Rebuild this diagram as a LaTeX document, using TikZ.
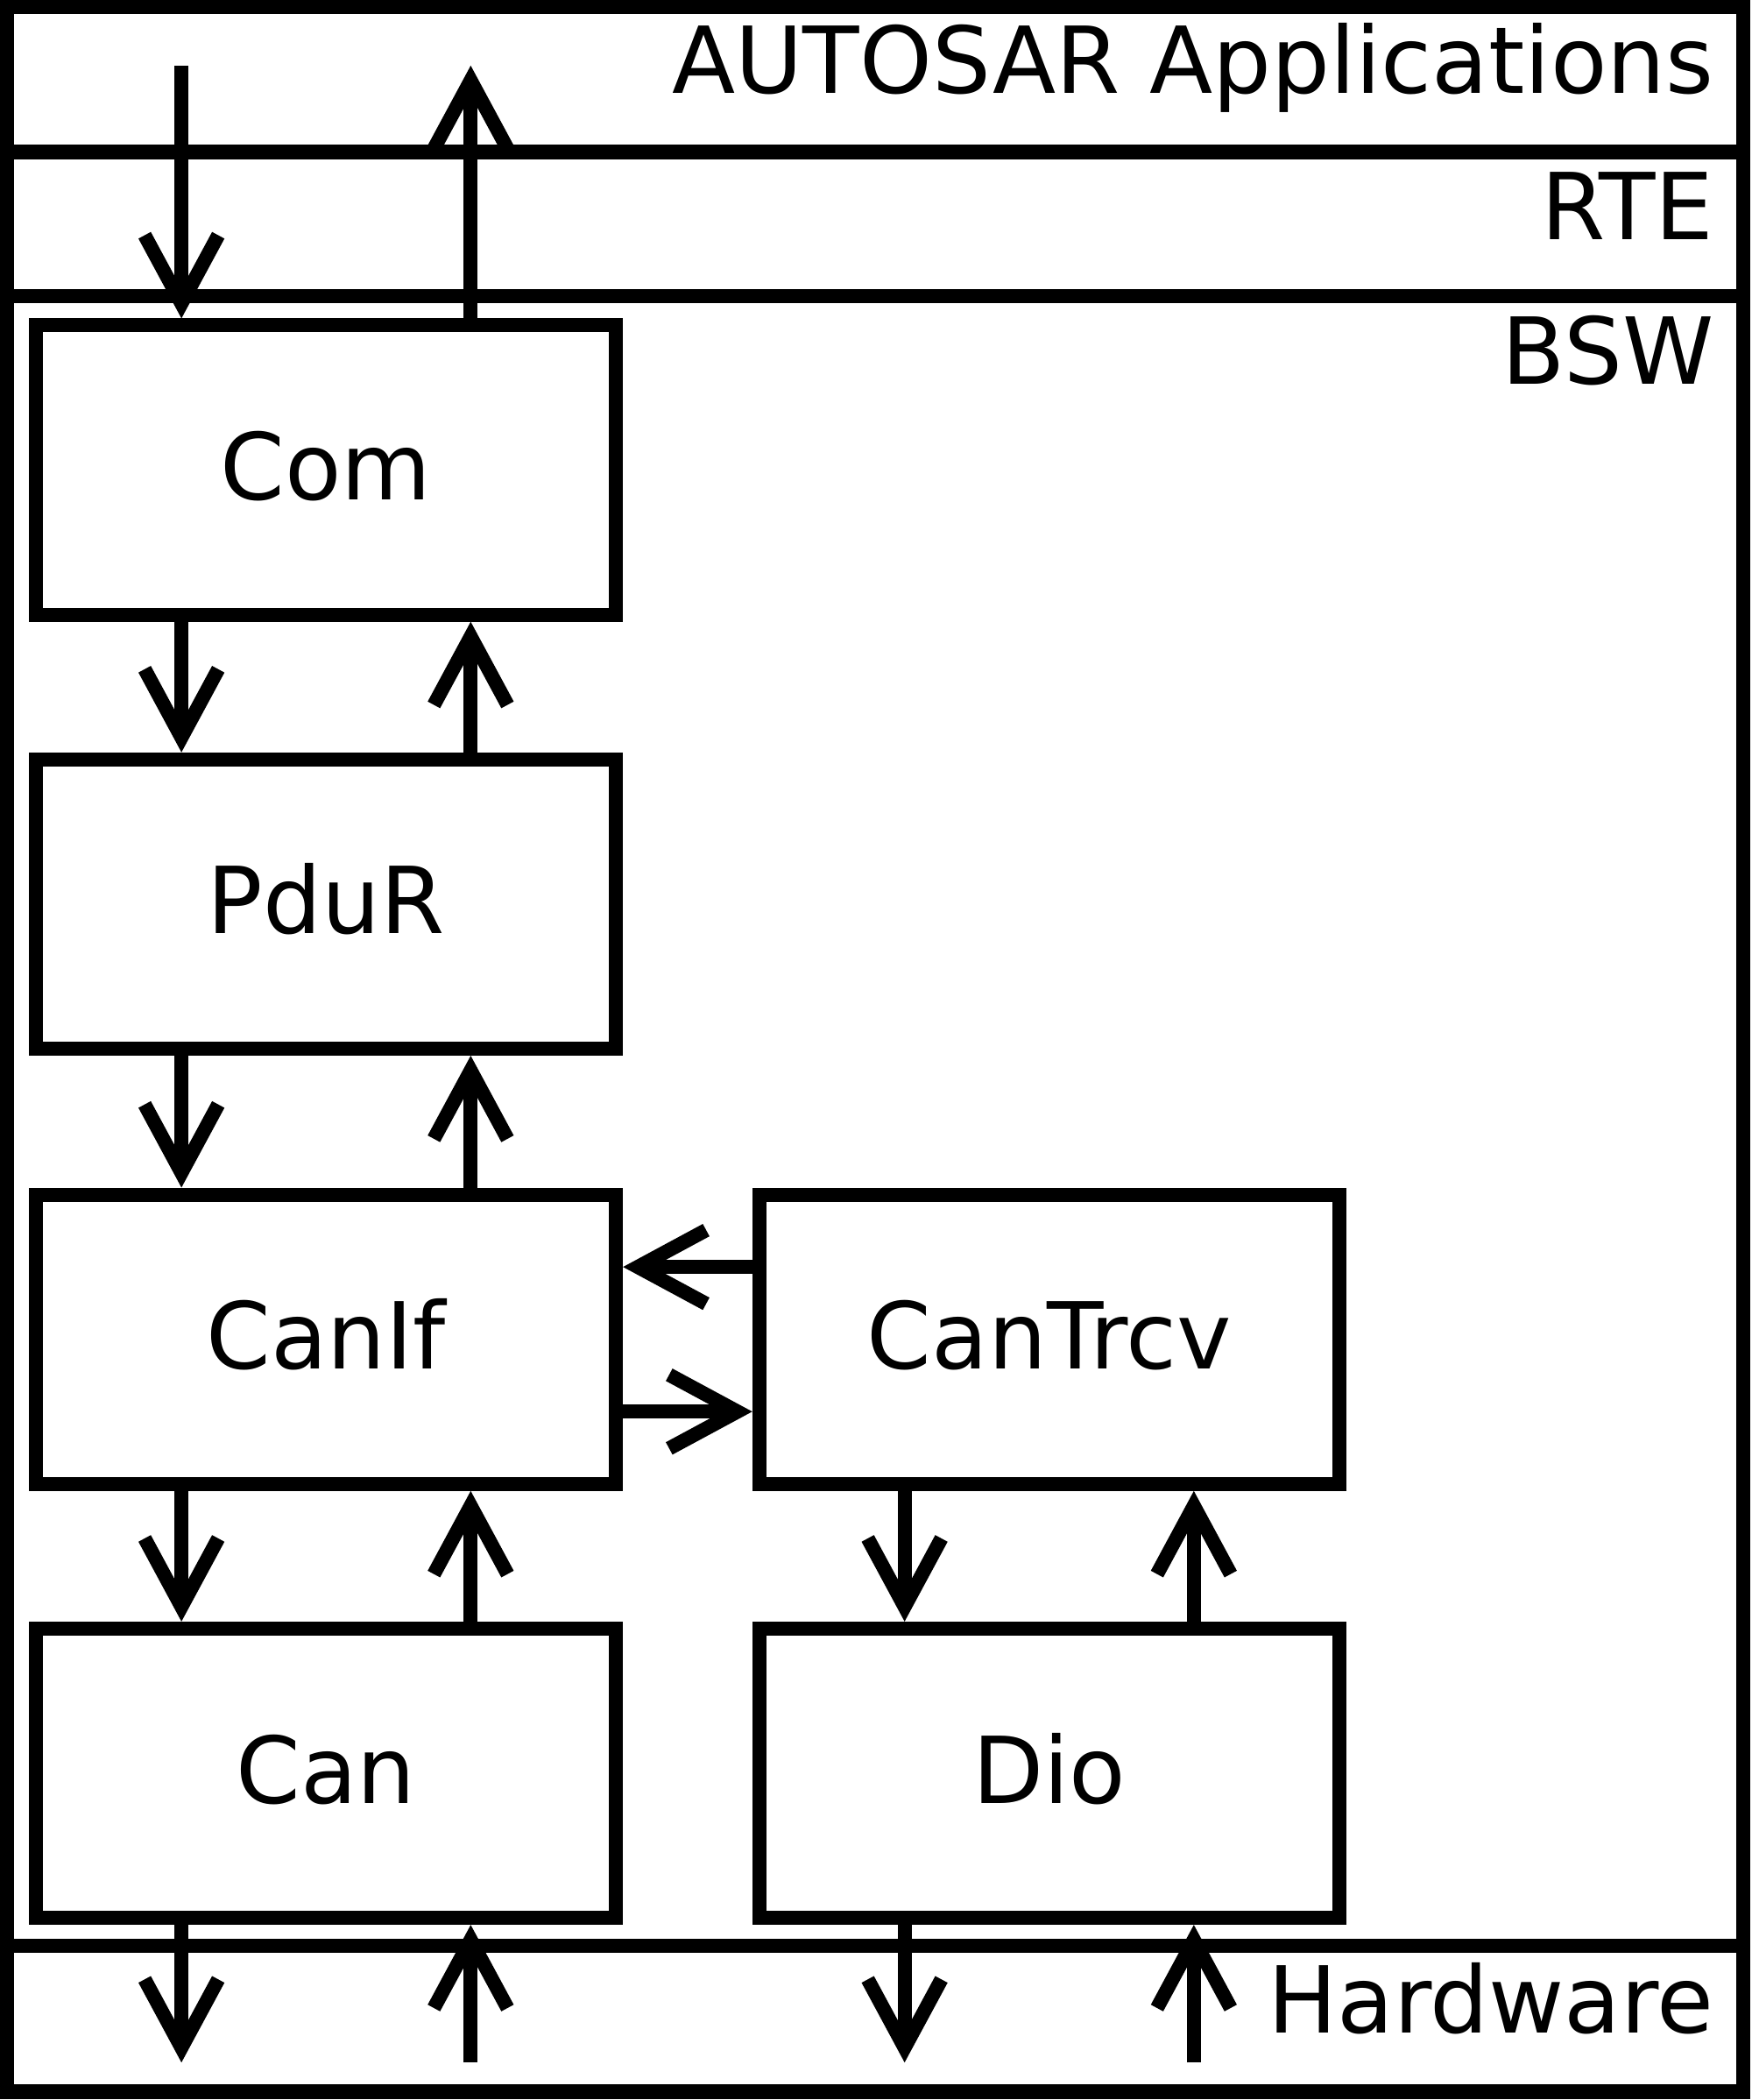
\documentclass[tikz,border=0pt]{standalone}
\usepackage{fontspec}
\setmainfont{DejaVu Sans}
\usetikzlibrary{arrows.meta}

\tikzset{
    layer/.style={draw, line width=10.5pt},
    layername/.style={anchor=base east, inner sep=0pt, font=\fontsize{69}{80}\selectfont},
    module/.style={draw, line width=10.5pt, minimum width=433pt, minimum height=216pt,
        text height=48pt, text depth=3.4pt, font=\fontsize{69}{80}\selectfont},
    flow/.style={line width=10.5pt, -{Straight Barb[sharp, length=51pt, width=55pt, line width=0pt 1]}},
}

\begin{document}
\begin{tikzpicture}[x=1pt,y=1pt]
    \useasboundingbox (0,0) rectangle (1308,1568);

    %Shape: Rectangle [AUTOSAR Applications]
    \draw [layer] (5.2,1454.5) rectangle (1301.8,1562.8);
    %Shape: Rectangle [RTE]
    \draw [layer] (5.2,1346.6) rectangle (1301.8,1454.5);
    %Shape: Rectangle [BSW]
    \draw [layer] (5.2,115) rectangle (1301.8,1346.6);
    %Shape: Rectangle [Hardware]
    \draw [layer] (5.2,6.2) rectangle (1301.8,115);

    % Text Node
    \node [layername] (appname) at (1280,1498) {AUTOSAR Applications};
    % Text Node
    \node [layername] (rtename) at (1280,1389.3) {RTE};
    % Text Node
    \node [layername] (bswname) at (1280,1281.3) {BSW};
    % Text Node
    \node [layername] (hwname) at (1280,50) {Hardware};

    %Modules
    \node [module] (com) at (243.5,1217) {Com};
    \node [module] (pdur) at (243.5,893) {PduR};
    \node [module] (canif) at (243.5,568) {CanIf};
    \node [module] (can) at (243.5,244) {Can};
    \node [module] (cantrcv) at (783.5,568) {CanTrcv};
    \node [module] (dio) at (783.5,244) {Dio};

    %Free ends in the application and hardware layers
    \coordinate (appdown) at (135.5,1519);
    \coordinate (appup) at (351.5,1519);
    \coordinate (hwcandown) at (135.5,28);
    \coordinate (hwcanup) at (351.5,28);
    \coordinate (hwdiodown) at (675.5,28);
    \coordinate (hwdioup) at (891.5,28);

    %Arrows
    \draw [flow] (appdown) -- (appdown |- com.north);
    \draw [flow] ([xshift=108pt]com.north) -- (appup);
    \draw [flow] ([xshift=-108pt]com.south) -- ([xshift=-108pt]pdur.north);
    \draw [flow] ([xshift=108pt]pdur.north) -- ([xshift=108pt]com.south);
    \draw [flow] ([xshift=-108pt]pdur.south) -- ([xshift=-108pt]canif.north);
    \draw [flow] ([xshift=108pt]canif.north) -- ([xshift=108pt]pdur.south);
    \draw [flow] ([xshift=-108pt]canif.south) -- ([xshift=-108pt]can.north);
    \draw [flow] ([xshift=108pt]can.north) -- ([xshift=108pt]canif.south);
    \draw [flow] ([yshift=54pt]cantrcv.west) -- ([yshift=54pt]canif.east);
    \draw [flow] ([yshift=-54pt]canif.east) -- ([yshift=-54pt]cantrcv.west);
    \draw [flow] ([xshift=-108pt]cantrcv.south) -- ([xshift=-108pt]dio.north);
    \draw [flow] ([xshift=108pt]dio.north) -- ([xshift=108pt]cantrcv.south);
    \draw [flow] ([xshift=-108pt]can.south) -- (hwcandown);
    \draw [flow] (hwcanup) -- ([xshift=108pt]can.south);
    \draw [flow] ([xshift=-108pt]dio.south) -- (hwdiodown);
    \draw [flow] (hwdioup) -- ([xshift=108pt]dio.south);

\end{tikzpicture}
\end{document}
